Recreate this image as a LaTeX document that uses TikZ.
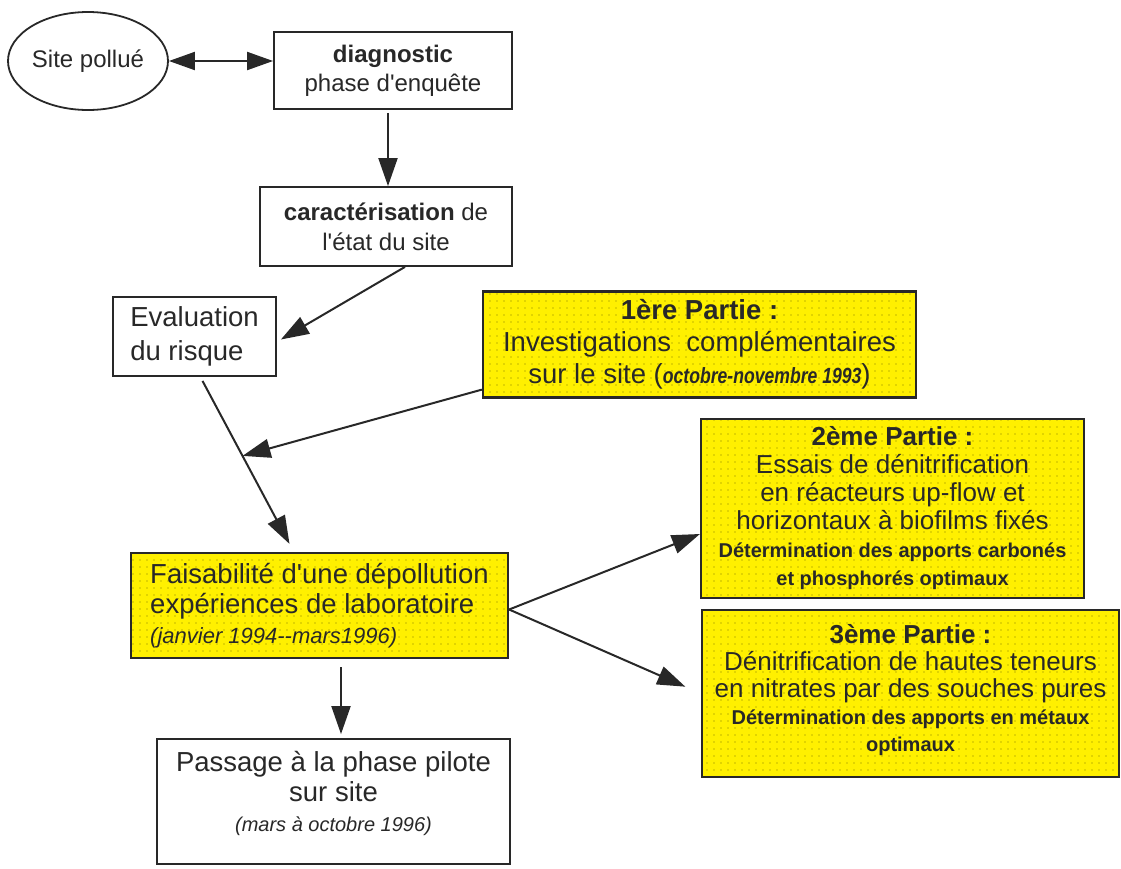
\documentclass[tikz,border=0pt]{standalone}
\usepackage{fontspec}
\setmainfont{Liberation Sans}[Ligatures=TeXOff]
\newfontfamily\narrowsf[FakeStretch=0.8]{Liberation Sans}
\usetikzlibrary{arrows.meta,patterns.meta,shapes.geometric,calc}
\definecolor{partyellow}{RGB}{255,240,0}
\definecolor{inkgray}{RGB}{40,40,40}
\newcommand{\sz}[2]{\fontsize{#1}{#2}\selectfont}

\begin{document}
\begin{tikzpicture}[x=1pt,y=-1pt,
  every node/.style={text=inkgray},
  plainbox/.style={draw=inkgray, line width=1.8pt, fill=white, inner sep=0pt},
  partbox/.style={draw=inkgray, line width=2.2pt, inner sep=0pt, align=center,
    preaction={fill=partyellow},
    pattern={Dots[distance=7pt,radius=0.7pt]}, pattern color=black!50!partyellow},
  arr/.style={draw=inkgray, line width=2pt, -{Triangle[length=28pt,width=19pt]}},
  arrboth/.style={arr, {Triangle[length=26pt,width=18pt]}-{Triangle[length=26pt,width=18pt]}}]
\useasboundingbox (0,0) rectangle (1121,868);

% left column
\node[plainbox, ellipse, minimum width=160, minimum height=98, font=\sz{24}{29}] (site) at (88,61) {Site pollué};
\node[plainbox, minimum width=238, minimum height=77, align=center, font=\sz{24}{29}] (diag) at (393,70.5) {\textbf{diagnostic}\\phase d'enquête};
\node[plainbox, minimum width=252, minimum height=79, align=center, font=\sz{24}{30}] (carac) at (386,226.5) {\textbf{caractérisation} de\\l'état du site};
\node[plainbox, minimum width=163, minimum height=79, align=left, font=\sz{27.5}{34}] (eval) at (194.5,336.5) {Evaluation\\du risque};
\node[partbox, minimum width=377, minimum height=105, align=left, font=\sz{27.5}{30}] (faisab) at (319.5,605.5) {Faisabilité d'une dépollution\\expériences de laboratoire\\{\itshape\sz{22}{25}(janvier 1994--mars1996)}};
\node[plainbox, minimum width=353, minimum height=125, align=center, font=\sz{27.5}{30}] (pass) at (333.5,801.5) {Passage à la phase pilote\\sur site\\{\itshape\sz{20}{25}(mars à octobre 1996)}\\[-10pt]\mbox{}};

% the three parts
\node[partbox, minimum width=433, minimum height=106, font=\sz{27.5}{32}] (part1) at (699.5,344.5) {\textbf{1ère Partie :}\\Investigations\ \ complémentaires\\sur le site ({\narrowsf\bfseries\itshape\sz{22}{32}octobre-novembre 1993})};
\node[partbox, minimum width=383, minimum height=179, font=\sz{26}{28}] (part2) at (892.5,508.5) {\textbf{2ème Partie :}\\Essais de dénitrification\\en réacteurs up-flow et\\horizontaux à biofilms fixés\\{\bfseries\sz{20}{24}Détermination des apports carbonés}\\{\bfseries\sz{20}{21}et phosphorés optimaux}};
\node[partbox, minimum width=417, minimum height=167, font=\sz{26}{27}] (part3) at (910.5,693.5) {\mbox{}\\[-15pt]\textbf{3ème Partie :}\\Dénitrification de hautes teneurs\\en nitrates par des souches pures\\{\bfseries\sz{20}{24}Détermination des apports en métaux}\\{\bfseries\sz{20}{20}optimaux}};

% connectors
\draw[arrboth] (site.east) -- (site.east -| diag.west);
\draw[arr] ([xshift=-5pt,yshift=-3pt]diag.south) -- ([xshift=-5pt]diag.south |- carac.north);
\draw[arr] ([xshift=19pt]carac.south) -- ([xshift=4pt,yshift=-3pt]eval.east);
\draw[arr] ([xshift=8pt,yshift=-4pt]eval.south) -- coordinate[pos=0.46] (meet) ([xshift=-30pt,yshift=8pt]faisab.north);
\draw[arr] ([yshift=9pt]part1.south west) -- (meet);
\draw[arr] ([yshift=-4pt]faisab.east) -- ([yshift=-25.5pt]part2.west);
\draw[arr, shorten >=17pt] ([yshift=-4pt]faisab.east) -- (part3.west);
\draw[arr] ([xshift=21.5pt,yshift=-8pt]faisab.south) -- ([xshift=21.5pt,yshift=4pt]faisab.south |- pass.north);
\end{tikzpicture}
\end{document}
